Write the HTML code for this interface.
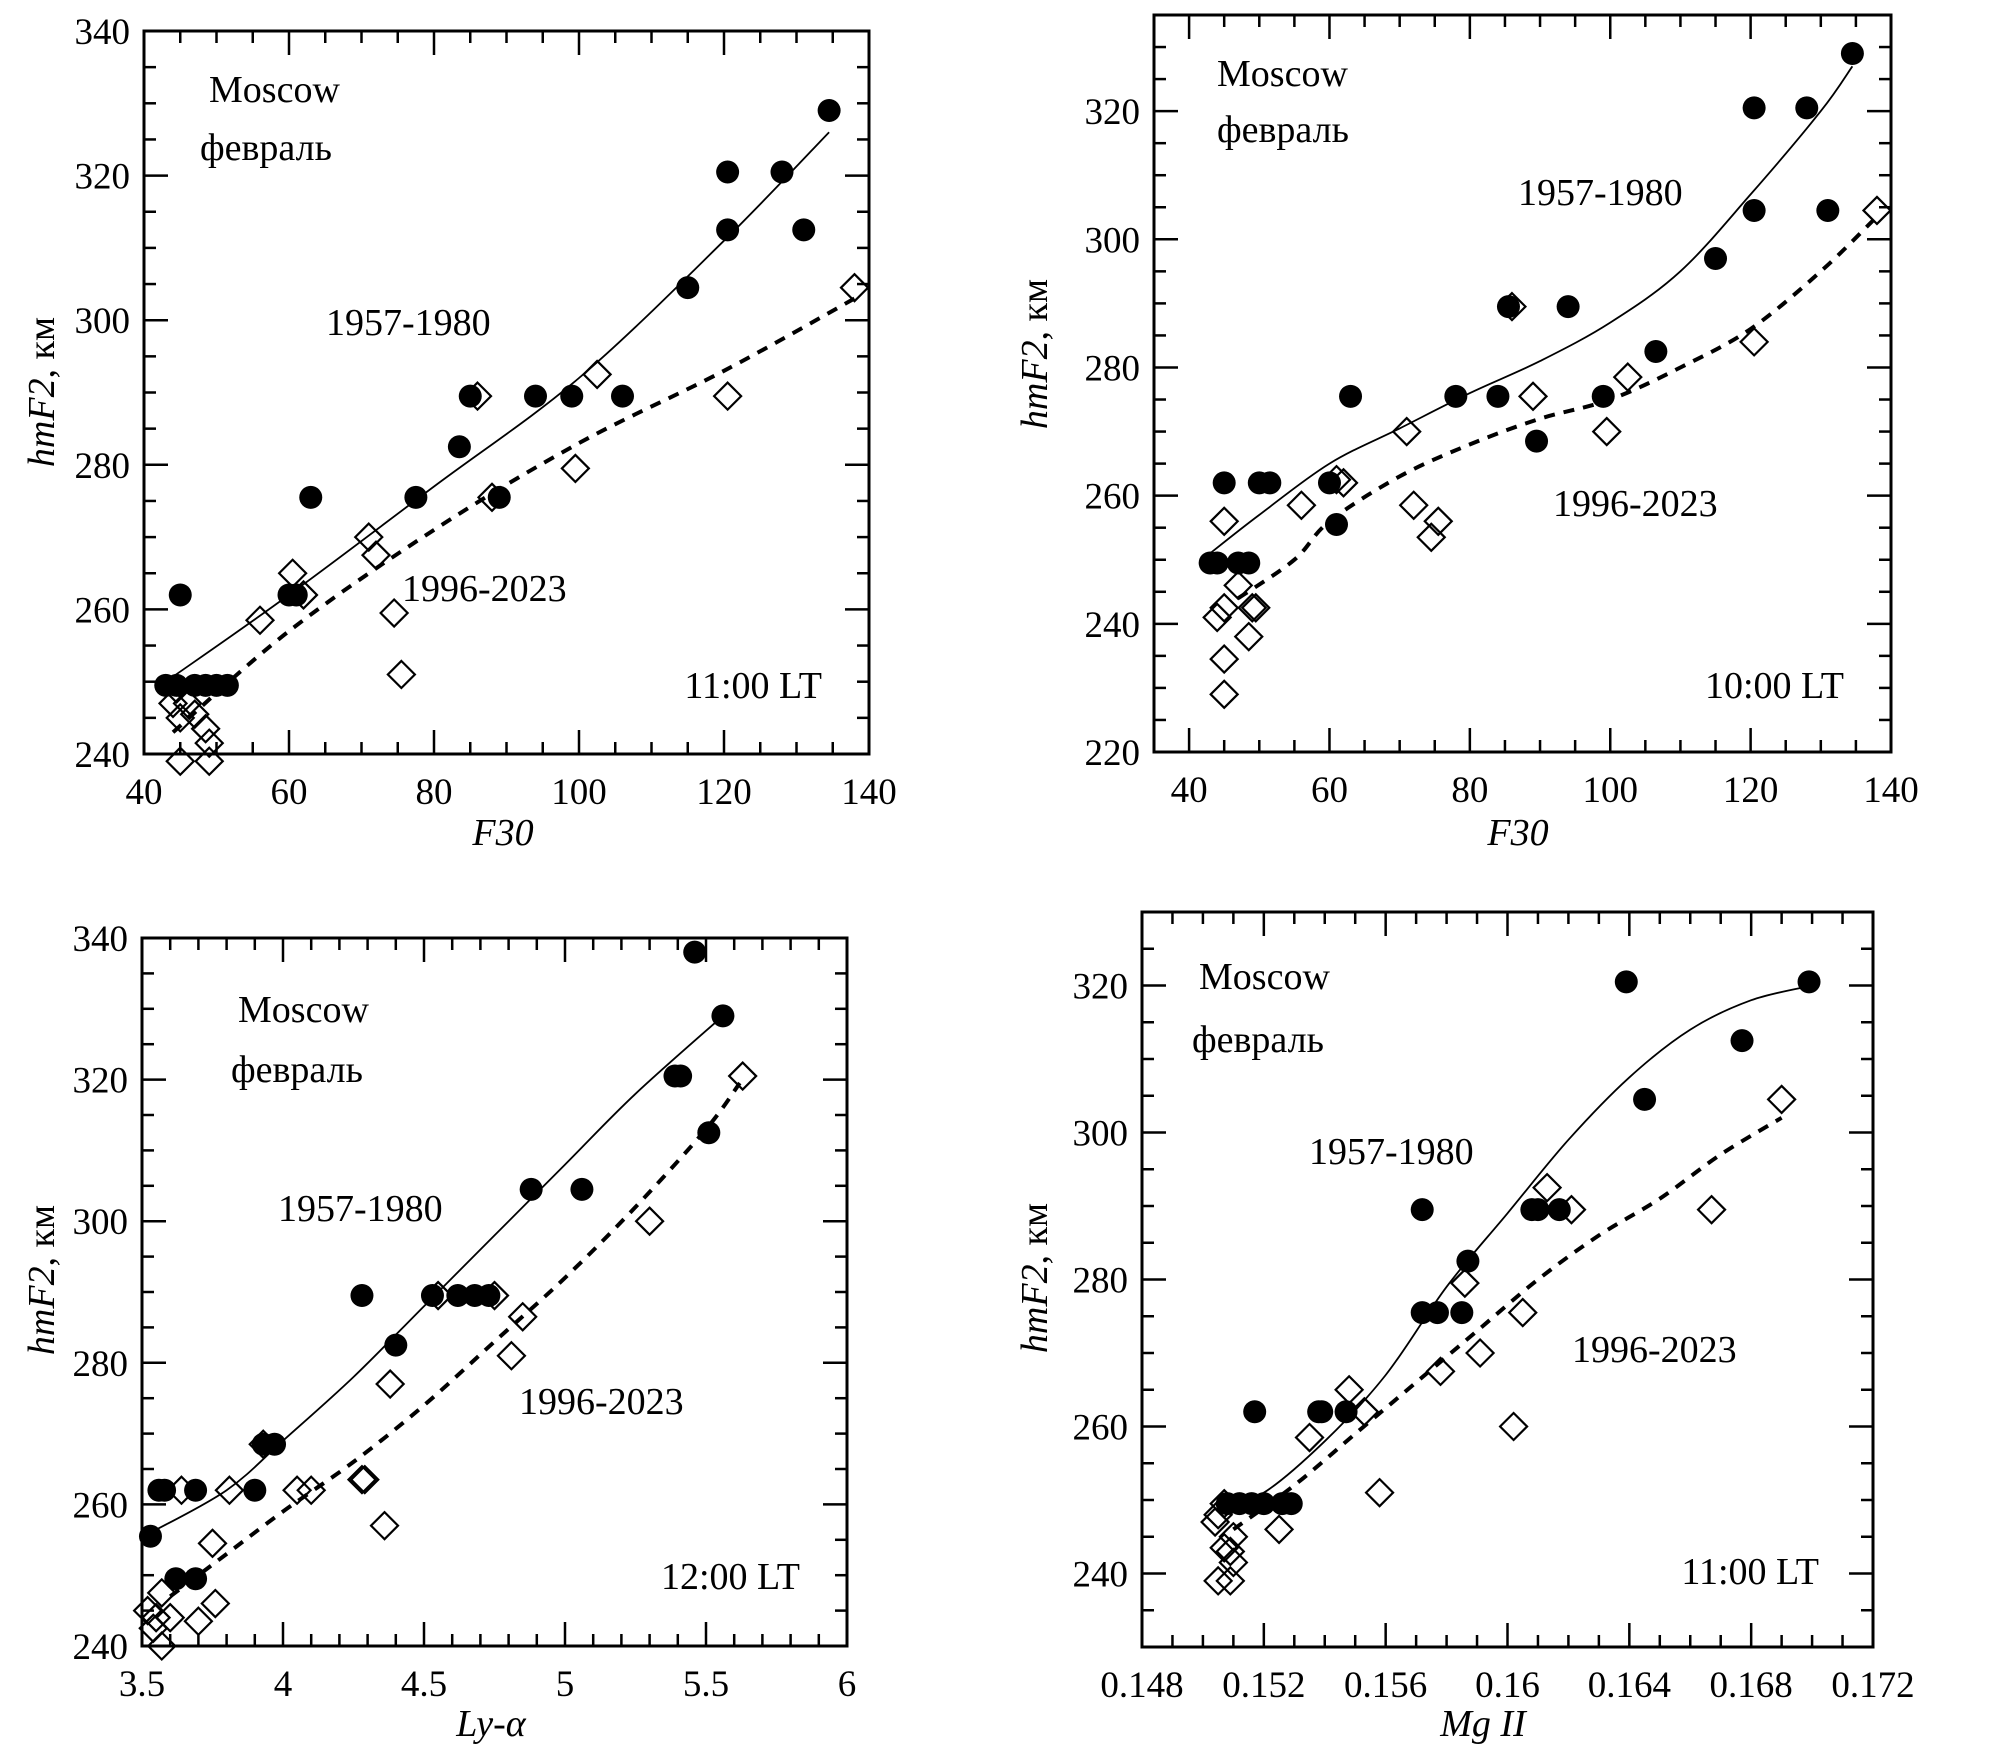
<!DOCTYPE html>
<html><head><meta charset="utf-8"><style>
html,body{margin:0;padding:0;background:#fff}
svg, svg text{font-family:"Liberation Serif","DejaVu Serif",serif;fill:#000}
</style></head><body>
<svg id="fig" xmlns="http://www.w3.org/2000/svg" width="1991" height="1756" viewBox="0 0 1991 1756" font-family="'Liberation Serif', 'DejaVu Serif', serif"></svg>
<script>
// Panel 1: F30, 11:00 LT
const p1DotX=[45,43,44.5,47,48.5,50,51.5,60,61,63,77.5,83.5,85,89,94,99,106,115,120.5,120.5,128,131,134.5];
const p1DotY=[262,249.5,249.5,249.5,249.5,249.5,249.5,262,262,275.5,275.5,282.5,289.5,275.5,289.5,289.5,289.5,304.5,320.5,312.5,320.5,312.5,329];
const p1DiaX=[44.5,44,45,46,47,48.5,49,45,49,56,60.5,62,71,72,74.5,75.5,86,88,99.5,102.5,120.5,138];
const p1DiaY=[249,247,245,247,245.5,243.5,241.5,239,239,258.5,265,262,270,267.5,259.5,251,289.5,275.5,279.5,292.5,289.5,304.5];
const p1FitOldX=[43,60,80,100,120,134.5];
const p1FitOldY=[250,262,277,292,311,326];
const p1FitNewX=[44,60,80,100,120,138];
const p1FitNewY=[243,257,271,283,293,303];
// Panel 2: F30, 10:00 LT
const p2DotX=[43,44,45,47,48.5,50,51.5,60,61,63,78,84,85.5,89.5,94,99,106.5,115,120.5,120.5,128,131,134.5];
const p2DotY=[249.5,249.5,262,249.5,249.5,262,262,262,255.5,275.5,275.5,275.5,289.5,268.5,289.5,275.5,282.5,297,320.5,304.5,320.5,304.5,329];
const p2DiaX=[45,44,45,45,45,47,49,49.5,48.5,56,61,62,71,72,74.5,75.5,86,89,99.5,102.5,120.5,138];
const p2DiaY=[256,241,242.5,234.5,229,246,242.5,242.5,238,258.5,262.5,262,270,258.5,253.5,256,289.5,275.5,270,278.5,284,304.5];
const p2FitOldX=[43,50,60,70,80,90,100,110,120,130,134.5];
const p2FitOldY=[251,257,265,270.5,276,281,287,295,307,320,327];
const p2FitNewX=[47,55,60,70,80,90,100,110,120,130,137.5];
const p2FitNewY=[244,250,256,263,268,272,275,280,286,295,303];
// Panel 3: Ly-alpha, 12:00 LT
const p3DotX=[3.53,3.56,3.58,3.62,3.69,3.69,3.9,3.93,3.97,4.28,4.4,4.53,4.62,4.68,4.73,4.88,5.06,5.39,5.41,5.46,5.51,5.56];
const p3DotY=[255.5,262,262,249.5,249.5,262,262,268.5,268.5,289.5,282.5,289.5,289.5,289.5,289.5,304.5,304.5,320.5,320.5,338,312.5,329];
const p3DiaX=[3.52,3.54,3.55,3.57,3.57,3.6,3.64,3.7,3.75,3.76,3.81,3.93,4.05,4.1,4.28,4.29,4.36,4.38,4.55,4.75,4.81,4.85,5.3,5.63];
const p3DiaY=[245,242.5,244,247.5,240,244,262,243.5,254.5,246,262,268.5,262,262,263.5,263.5,257,277,289.5,289.5,281,286.5,300,320.5];
const p3FitOldX=[3.53,3.8,4.0,4.25,4.5,4.75,5.0,5.25,5.56];
const p3FitOldY=[256,262,269,278,288,298,308,318,329];
const p3FitNewX=[3.6,3.8,4.0,4.25,4.5,4.75,5.0,5.25,5.5,5.62];
const p3FitNewY=[247,253,259,266,274,283,292,302,313,319.5];
// Panel 4: Mg II, 11:00 LT
const p4DotX=[0.1508,0.1512,0.1516,0.152,0.1526,0.1529,0.1517,0.1538,0.1539,0.1547,0.1572,0.1572,0.1577,0.1585,0.1587,0.1608,0.161,0.1617,0.1639,0.1645,0.1677,0.1699];
const p4DotY=[249.5,249.5,249.5,249.5,249.5,249.5,262,262,262,262,289.5,275.5,275.5,275.5,282.5,289.5,289.5,289.5,320.5,304.5,312.5,320.5];
const p4DiaX=[0.1504,0.1505,0.1507,0.1507,0.1509,0.151,0.151,0.1505,0.1509,0.1525,0.1535,0.1548,0.1553,0.1558,0.1578,0.1586,0.1591,0.1602,0.1605,0.1613,0.1621,0.1667,0.169];
const p4DiaY=[247,248,249.5,243.5,243,245,241.5,239,239,246,258.5,265,262,251,267.5,279.5,270,260,275.5,292.5,289.5,289.5,304.5];
const p4FitOldX=[0.1507,0.152,0.154,0.156,0.158,0.160,0.162,0.164,0.166,0.168,0.170];
const p4FitOldY=[249.5,251,258,267,279,289,299,307.5,314,318,320];
const p4FitNewX=[0.151,0.153,0.155,0.157,0.159,0.161,0.163,0.165,0.167,0.169];
const p4FitNewY=[246,252,259,266,273,280,286,291,297,302];

const NS="http://www.w3.org/2000/svg";
const FONT="'Liberation Serif', 'DejaVu Serif', serif";
const svg=document.getElementById('fig');
function mk(tag,attrs,parent){const e=document.createElementNS(NS,tag);for(const k in attrs)e.setAttribute(k,attrs[k]);if(tag==='text')e.setAttribute('font-family',FONT);(parent||svg).appendChild(e);return e;}
function fmt(v){return String(+v.toFixed(6));}

const panels=[
 {id:'p1',L:144,R:869,T:31,B:754,x0:40,x1:140,y0:240,y1:340,xMaj:20,xMin:5,yMaj:20,yMin:5,xTicks:[40,60,80,100,120,140],yTicks:[240,260,280,300,320,340],
  dx:p1DotX,dy:p1DotY,qx:p1DiaX,qy:p1DiaY,ox:p1FitOldX,oy:p1FitOldY,nx:p1FitNewX,ny:p1FitNewY,xlab:'F30',
  mos:[209,102],feb:[200,160],old:[326,335],nw:[402,601],lt:[822,698,'11:00 LT'],xl:[503,845],yl:[42,392]},
 {id:'p2',L:1154,R:1891,T:15,B:752,x0:35,x1:140,y0:220,y1:335,xMaj:20,xMin:5,yMaj:20,yMin:5,xTicks:[40,60,80,100,120,140],yTicks:[220,240,260,280,300,320],
  dx:p2DotX,dy:p2DotY,qx:p2DiaX,qy:p2DiaY,ox:p2FitOldX,oy:p2FitOldY,nx:p2FitNewX,ny:p2FitNewY,xlab:'F30',
  mos:[1217,86],feb:[1217,142],old:[1518,205],nw:[1553,516],lt:[1844,698,'10:00 LT'],xl:[1518,845],yl:[1035,354]},
 {id:'p3',L:142,R:847,T:938,B:1646,x0:3.5,x1:6,y0:240,y1:340,xMaj:0.5,xMin:0.1,yMaj:20,yMin:5,xTicks:[3.5,4,4.5,5,5.5,6],yTicks:[240,260,280,300,320,340],
  dx:p3DotX,dy:p3DotY,qx:p3DiaX,qy:p3DiaY,ox:p3FitOldX,oy:p3FitOldY,nx:p3FitNewX,ny:p3FitNewY,xlab:'Ly-α',
  mos:[238,1022],feb:[231,1082],old:[278,1221],nw:[519,1414],lt:[800,1589,'12:00 LT'],xl:[491,1736],yl:[42,1280]},
 {id:'p4',L:1142,R:1873,T:912,B:1647,x0:0.148,x1:0.172,y0:230,y1:330,xMaj:0.004,xMin:0.001,yMaj:20,yMin:5,xTicks:[0.148,0.152,0.156,0.16,0.164,0.168,0.172],yTicks:[240,260,280,300,320],
  dx:p4DotX,dy:p4DotY,qx:p4DiaX,qy:p4DiaY,ox:p4FitOldX,oy:p4FitOldY,nx:p4FitNewX,ny:p4FitNewY,xlab:'MgII',
  mos:[1199,989],feb:[1192,1052],old:[1309,1164],nw:[1572,1362],lt:[1819,1584,'11:00 LT'],xl:[1483,1736],yl:[1035,1278]}
];

function smoothPath(pts){
  let d='M'+pts[0][0].toFixed(1)+','+pts[0][1].toFixed(1);
  for(let i=0;i<pts.length-1;i++){
    const p0=pts[i-1]||pts[i],p1=pts[i],p2=pts[i+1],p3=pts[i+2]||p2;
    const c1=[p1[0]+(p2[0]-p0[0])/6,p1[1]+(p2[1]-p0[1])/6];
    const c2=[p2[0]-(p3[0]-p1[0])/6,p2[1]-(p3[1]-p1[1])/6];
    d+=' C'+c1.map(v=>v.toFixed(1))+' '+c2.map(v=>v.toFixed(1))+' '+p2.map(v=>v.toFixed(1));
  }
  return d;
}

panels.forEach(P=>{
  const g=mk('g',{});
  
  
  const sx=v=>P.L+(v-P.x0)/(P.x1-P.x0)*(P.R-P.L);
  const sy=v=>P.B-(v-P.y0)/(P.y1-P.y0)*(P.B-P.T);
  const tg=mk('g',{stroke:'#000','stroke-width':2.5},g);
  
  
  const startX=Math.ceil(P.x0/P.xMin-1e-6)*P.xMin;
  for(let v=startX;v<=P.x1+1e-9;v+=P.xMin){
    const isMaj=Math.abs(v/P.xMaj-Math.round(v/P.xMaj))<1e-6;
    const len=isMaj?24:12,x=sx(v);
    mk('line',{x1:x,x2:x,y1:P.B,y2:P.B-len},tg);
    mk('line',{x1:x,x2:x,y1:P.T,y2:P.T+len},tg);
  }
  const startY=Math.ceil(P.y0/P.yMin-1e-6)*P.yMin;
  for(let v=startY;v<=P.y1+1e-9;v+=P.yMin){
    const isMaj=Math.abs(v/P.yMaj-Math.round(v/P.yMaj))<1e-6;
    const len=isMaj?24:12,y=sy(v);
    mk('line',{x1:P.L,x2:P.L+len,y1:y,y2:y},tg);
    mk('line',{x1:P.R,x2:P.R-len,y1:y,y2:y},tg);
  }
  const fr=mk('rect',{x:P.L,y:P.T,width:P.R-P.L,height:P.B-P.T,fill:'none',stroke:'#000','stroke-width':3},g);
  
  
  P.xTicks.forEach(v=>{
    const t=mk('text',{x:sx(v),y:P.B+50,'text-anchor':'middle','font-size':37},g);
    t.textContent=fmt(v);
    
    
  });
  P.yTicks.forEach(v=>{
    const t=mk('text',{x:P.L-14,y:sy(v)+13,'text-anchor':'end','font-size':37},g);
    t.textContent=fmt(v);
    
    
  });
  const old=mk('path',{d:smoothPath(P.ox.map((x,i)=>[sx(x),sy(P.oy[i])])),fill:'none',stroke:'#000','stroke-width':1.8},g);
  
  
  const nw=mk('path',{d:smoothPath(P.nx.map((x,i)=>[sx(x),sy(P.ny[i])])),fill:'none',stroke:'#000','stroke-width':4,'stroke-dasharray':'11 9'},g);
  
  
  P.qx.forEach((x,i)=>{
    const cx=sx(x),cy=sy(P.qy[i]),r=13.5;
    const d=mk('polygon',{points:`${cx},${cy-r} ${cx+r},${cy} ${cx},${cy+r} ${cx-r},${cy}`,fill:'#fff','fill-opacity':0,stroke:'#000','stroke-width':2.2},g);
    
    
  });
  P.dx.forEach((x,i)=>{
    const c=mk('circle',{cx:sx(x),cy:sy(P.dy[i]),r:11.5,fill:'#000'},g);
    
    
  });
  const txt=(x,y,s,name,anchor)=>{const t=mk('text',{x:x,y:y,'font-size':38,'text-anchor':anchor||'start'},g);t.textContent=s;return t;};
  txt(P.mos[0],P.mos[1],'Moscow','city-label');
  txt(P.feb[0],P.feb[1],'февраль','month-label');
  txt(P.old[0],P.old[1],'1957-1980','label-1957-1980');
  txt(P.nw[0],P.nw[1],'1996-2023','label-1996-2023');
  txt(P.lt[0],P.lt[1],P.lt[2],'local-time-label','end');
  const xl=mk('text',{x:P.xl[0],y:P.xl[1],'font-size':38,'font-style':'italic','text-anchor':'middle'},g);
  xl.textContent=P.xlab==='MgII'?'Mg II':P.xlab;
  
  
  const yl=mk('text',{x:0,y:0,'font-size':38,'text-anchor':'middle',transform:`translate(${P.yl[0]+12},${P.yl[1]}) rotate(-90)`},g);
  yl.innerHTML='<tspan font-style="italic">hmF2</tspan>, км';
  
  
});
</script>
</body></html>
